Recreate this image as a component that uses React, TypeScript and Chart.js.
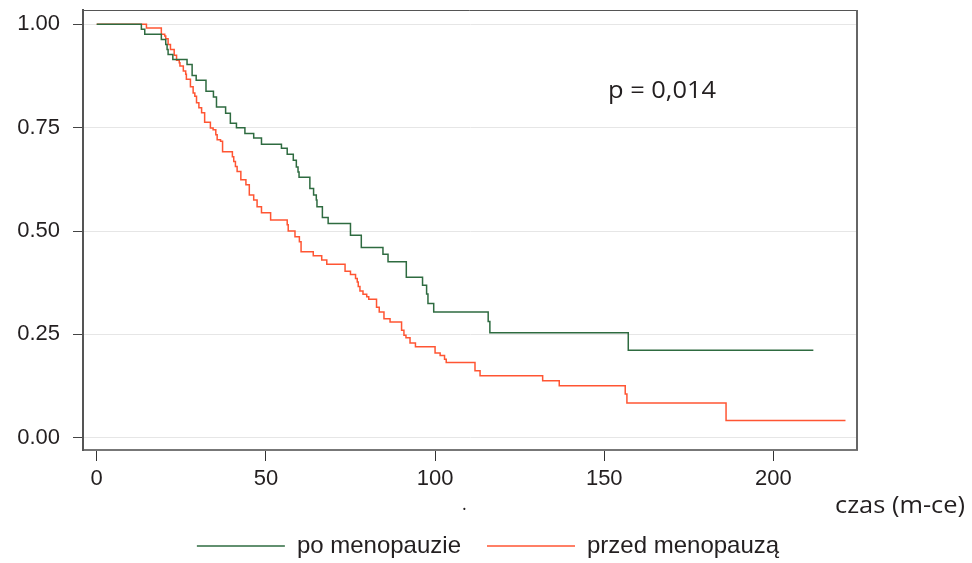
import { useEffect, useRef } from 'react';
import { Chart, registerables } from 'chart.js';

Chart.register(...registerables);

// Kaplan-Meier survival curves: event time (months) and survival after the drop
const groupLabels = ['po menopauzie', 'przed menopauzą'];

const postTimes = [
  0, 13.2, 14.2, 19.1, 20.4, 20.8, 21.1, 22.5, 26.7, 28.2,
  29.4, 32.3, 34.5, 35.4, 38.1, 39.5, 41.3, 43.8, 46.4, 48.7,
  54.6, 56.3, 58.1, 59.0, 59.5, 59.8, 63.0, 64.1, 64.9, 65.1,
  66.7, 68.4, 75.0, 78.2, 84.6, 86.1, 91.5, 96.3, 97.5, 97.9,
  99.6, 115.7, 116.2, 157.1, 211.8,
];
const postSurvival = [
  1, 0.988, 0.976, 0.963, 0.951, 0.939, 0.927, 0.915, 0.903, 0.876,
  0.865, 0.838, 0.824, 0.8, 0.785, 0.761, 0.75, 0.736, 0.725, 0.71,
  0.7, 0.686, 0.671, 0.655, 0.643, 0.63, 0.603, 0.587, 0.575, 0.559,
  0.533, 0.518, 0.49, 0.46, 0.444, 0.426, 0.388, 0.369, 0.348, 0.325,
  0.304, 0.281, 0.254, 0.212, 0.212,
];

const preTimes = [
  0, 14.7, 19.1, 20.1, 20.4, 21.1, 21.8, 22.9, 23.6, 24.4,
  24.6, 25.6, 26.3, 26.5, 27.7, 28.5, 29.0, 29.5, 30.2, 31.0,
  31.9, 33.6, 34.4, 35.2, 35.6, 36.6, 37.2, 40.1, 40.5, 41.0,
  41.5, 42.6, 44.1, 45.1, 46.4, 47.4, 48.7, 51.4, 56.3, 56.6,
  58.6, 59.9, 60.4, 64.0, 66.5, 68.0, 73.4, 75.0, 76.5, 77.0,
  77.3, 77.8, 78.7, 79.8, 80.4, 82.7, 83.5, 84.9, 86.7, 90.1,
  90.8, 91.4, 92.6, 94.2, 100.0, 101.5, 102.8, 103.3, 111.8, 113.3,
  131.8, 136.7, 156.2, 156.7, 186.0, 221.3,
];
const preSurvival = [
  1, 0.991, 0.976, 0.972, 0.965, 0.951, 0.939, 0.925, 0.913, 0.907,
  0.899, 0.887, 0.879, 0.867, 0.849, 0.834, 0.826, 0.81, 0.798, 0.786,
  0.763, 0.749, 0.745, 0.733, 0.721, 0.717, 0.692, 0.68, 0.668, 0.656,
  0.644, 0.624, 0.612, 0.587, 0.575, 0.559, 0.544, 0.527, 0.515, 0.5,
  0.486, 0.474, 0.45, 0.44, 0.43, 0.42, 0.403, 0.395, 0.385, 0.377,
  0.366, 0.355, 0.347, 0.341, 0.335, 0.316, 0.304, 0.288, 0.28, 0.26,
  0.248, 0.242, 0.229, 0.22, 0.205, 0.199, 0.19, 0.182, 0.162, 0.15,
  0.138, 0.126, 0.106, 0.084, 0.042, 0.042,
];

const yTickValues = [0, 0.25, 0.5, 0.75, 1];
const xTickValues = [0, 50, 100, 150, 200];

const pValueText = 'p = 0,014';
const xAxisTitle = 'czas (m-ce)';

const TEXT = '#231f20';
const SANS = "'Liberation Sans', Arial, sans-serif";
const HUMANIST = "'Open Sans', Lato, sans-serif";

function toPoints(times: number[], values: number[]) {
  return times.map((t, i) => ({ x: t, y: values[i] }));
}

// Draws text on the canvas, stretched horizontally to a given width.
function fittedText(ctx: CanvasRenderingContext2D, text: string, left: number, baseline: number, width: number, font: string) {
  ctx.save();
  ctx.font = font;
  ctx.fillStyle = TEXT;
  ctx.textAlign = 'left';
  ctx.textBaseline = 'alphabetic';
  const w = ctx.measureText(text).width;
  ctx.translate(left, baseline);
  if (width > 0 && w > 0) ctx.scale(width / w, 1);
  ctx.fillText(text, 0, 0);
  ctx.restore();
}

const frameAndNotes = {
  id: 'frameAndNotes',
  afterDatasetsDraw(chart: any) {
    const { ctx, chartArea: a } = chart;
    ctx.save();
    ctx.strokeStyle = '#555';
    ctx.lineWidth = 1;
    ctx.beginPath();
    ctx.moveTo(a.left, a.top + 0.5);
    ctx.lineTo(a.right - 0.5, a.top + 0.5);
    ctx.stroke();
    ctx.strokeStyle = '#666';
    ctx.lineWidth = 2;
    ctx.beginPath();
    ctx.moveTo(a.right, a.top);
    ctx.lineTo(a.right, a.bottom);
    ctx.stroke();
    ctx.restore();
  },
  afterDraw(chart: any) {
    const { ctx } = chart;
    fittedText(ctx, pValueText, 608, 98, 108, `23px ${HUMANIST}`);
    fittedText(ctx, xAxisTitle, 835, 513, 130, `23px ${HUMANIST}`);
    fittedText(ctx, '.', 462, 510, 0, `18px ${HUMANIST}`);
  },
};

export default function App() {
  const canvasRef = useRef<HTMLCanvasElement | null>(null);

  useEffect(() => {
    const canvas = canvasRef.current;
    if (!canvas) return;
    const chart = new Chart(canvas, {
      type: 'line',
      data: {
        datasets: [
          {
            label: groupLabels[0],
            data: toPoints(postTimes, postSurvival),
            borderColor: '#2e6b40',
            backgroundColor: '#2e6b40',
            borderWidth: 1.5,
            stepped: 'before',
            pointRadius: 0,
            pointStyle: 'line',
            fill: false,
          },
          {
            label: groupLabels[1],
            data: toPoints(preTimes, preSurvival),
            borderColor: '#ff5533',
            backgroundColor: '#ff5533',
            borderWidth: 1.5,
            stepped: 'before',
            pointRadius: 0,
            pointStyle: 'line',
            fill: false,
          },
        ],
      },
      options: {
        responsive: false,
        animation: false,
        events: [],
        layout: { padding: { top: 10, left: 4, right: 0, bottom: 0 } },
        plugins: {
          tooltip: { enabled: false },
          legend: {
            position: 'bottom',
            maxHeight: 55,
            labels: {
              usePointStyle: true,
              pointStyle: 'line',
              pointStyleWidth: 88,
              padding: 26,
              color: TEXT,
              font: { family: SANS, size: 24 },
            },
          },
        },
        scales: {
          x: {
            type: 'linear',
            min: -4.05,
            max: 224.7,
            afterBuildTicks: (scale: any) => {
              scale.ticks = xTickValues.map((v) => ({ value: v }));
            },
            afterFit: (scale: any) => {
              scale.height = 58;
              scale.paddingLeft = 0;
              scale.paddingRight = 0;
            },
            grid: {
              drawOnChartArea: false,
              drawTicks: true,
              tickLength: 11,
              tickColor: '#333',
              tickWidth: 1,
            },
            border: { display: true, color: '#777', width: 2 },
            ticks: {
              padding: 5,
              color: TEXT,
              font: { family: SANS, size: 22 },
              maxRotation: 0,
              autoSkip: false,
              callback: (v: any) => String(v),
            },
          },
          y: {
            type: 'linear',
            min: -0.0295,
            max: 1.0346,
            afterBuildTicks: (scale: any) => {
              scale.ticks = yTickValues.map((v) => ({ value: v }));
            },
            afterFit: (scale: any) => {
              scale.width = 79;
              scale.paddingTop = 0;
              scale.paddingBottom = 0;
            },
            grid: {
              color: '#e6e6e6',
              lineWidth: 1,
              drawTicks: true,
              tickLength: 10,
              tickColor: '#444',
            },
            border: { display: true, color: '#555', width: 2 },
            ticks: {
              padding: 13,
              color: TEXT,
              font: { family: SANS, size: 22 },
              autoSkip: false,
              callback: (v: any) => Number(v).toFixed(2),
            },
          },
          yRight: {
            type: 'linear',
            position: 'right',
            display: true,
            afterFit: (scale: any) => {
              scale.width = 115;
              scale.paddingTop = 0;
              scale.paddingBottom = 0;
            },
            grid: { display: false, drawTicks: false },
            border: { display: false },
            ticks: { display: false },
          },
        },
      },
      plugins: [frameAndNotes],
    } as any);
    return () => chart.destroy();
  }, []);

  return (
    <div style={{ position: 'fixed', left: 0, top: 0, width: 972, height: 563, background: '#fff' }}>
      <canvas ref={canvasRef} width={972} height={563} style={{ display: 'block' }} />
    </div>
  );
}
